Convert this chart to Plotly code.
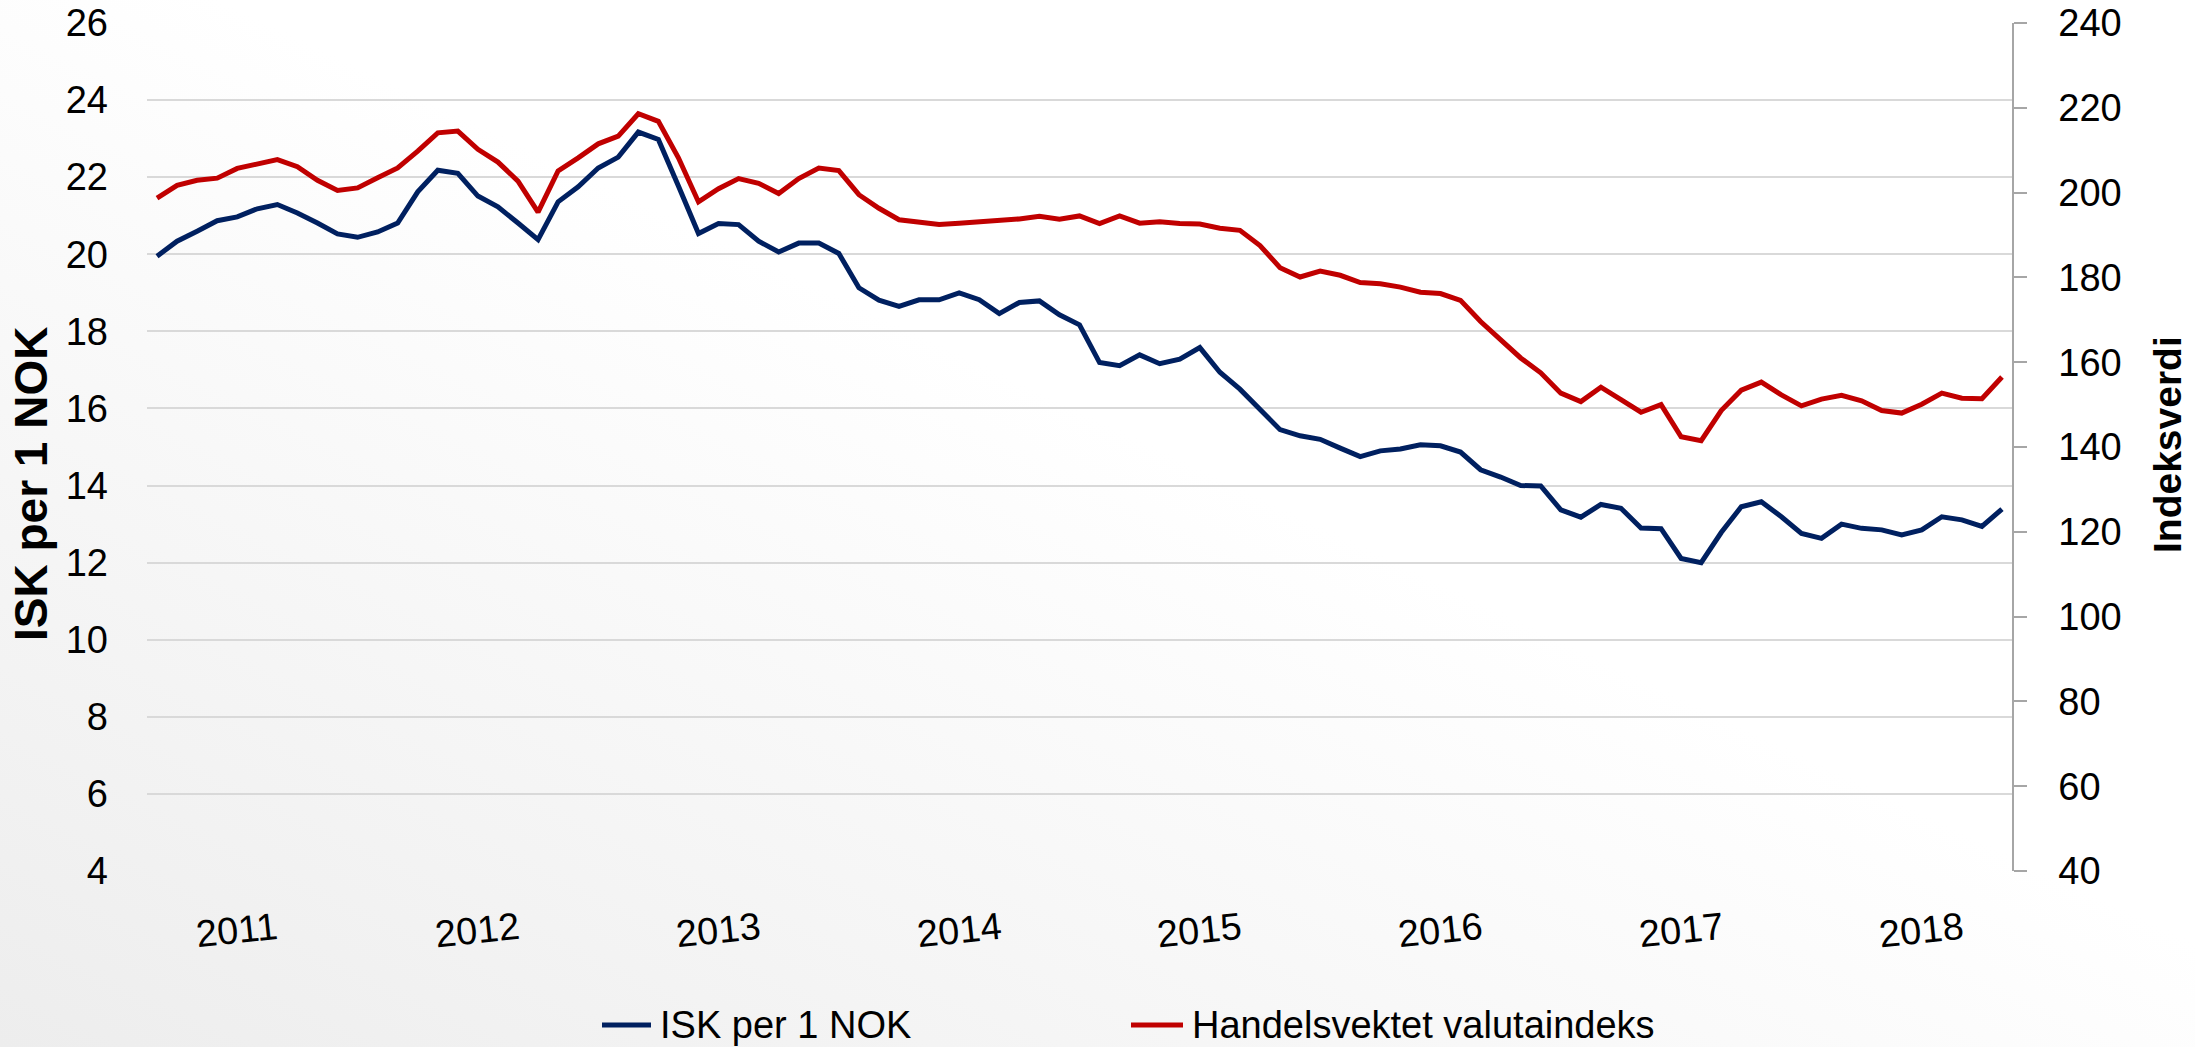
import base64
import plotly.graph_objects as go

# Monthly observations, Sep 2010 - May 2018
months = [f"{y}-{m:02d}" for y in range(2010, 2019) for m in range(1, 13)]
months = months[months.index("2010-09"):months.index("2018-05") + 1]

isk_per_nok = [
    19.95, 20.34, 20.60, 20.87, 20.97, 21.18, 21.29, 21.07, 20.81, 20.53,
    20.44, 20.58, 20.81, 21.62, 22.18, 22.10, 21.51, 21.23, 20.81, 20.38,
    21.36, 21.75, 22.24, 22.52, 23.17, 22.98, 21.77, 20.54, 20.80, 20.77,
    20.34, 20.06, 20.29, 20.29, 20.02, 19.13, 18.81, 18.65, 18.82, 18.82,
    19.00, 18.82, 18.46, 18.75, 18.79, 18.43, 18.17, 17.19, 17.11, 17.39,
    17.16, 17.28, 17.58, 16.94, 16.50, 15.98, 15.45, 15.29, 15.20, 14.97,
    14.75, 14.90, 14.95, 15.06, 15.03, 14.87, 14.41, 14.22, 14.00, 13.99,
    13.37, 13.18, 13.51, 13.41, 12.90, 12.88, 12.11, 12.00, 12.78, 13.45,
    13.58, 13.19, 12.76, 12.63, 13.00, 12.89, 12.85, 12.72, 12.85, 13.19,
    13.11, 12.94, 13.39,
]

handelsvektet = [
    198.7, 201.7, 202.9, 203.4, 205.7, 206.8, 207.8, 206.1, 202.9, 200.5,
    201.1, 203.5, 205.8, 209.8, 214.1, 214.5, 210.2, 207.2, 202.7, 195.4,
    205.1, 208.2, 211.5, 213.3, 218.6, 216.8, 208.2, 197.8, 200.9, 203.3,
    202.2, 199.8, 203.3, 205.8, 205.2, 199.5, 196.3, 193.6, 193.1, 192.5,
    192.8, 193.1, 193.4, 193.8, 194.4, 193.7, 194.5, 192.7, 194.5, 192.8,
    193.1, 192.7, 192.6, 191.6, 191.1, 187.5, 182.3, 180.1, 181.5, 180.5,
    178.8, 178.5, 177.7, 176.5, 176.2, 174.6, 169.6, 165.2, 161.0, 157.5,
    152.7, 150.7, 154.1, 151.2, 148.2, 150.0, 142.4, 141.5, 148.6, 153.4,
    155.3, 152.3, 149.7, 151.3, 152.2, 150.9, 148.6, 148.0, 150.1, 152.7,
    151.5, 151.4, 156.5,
]

year_labels = ["2011", "2012", "2013", "2014", "2015", "2016", "2017", "2018"]

FONT = "Liberation Sans"
BLUE = "#002060"
RED = "#C00000"
LINE_W = 5

W, H = 2195, 1047
ML, MR, MT, MB = 147, 183, 23, 176
PW, PH = W - ML - MR, H - MT - MB


def px_x(px):
    """Page x pixel -> paper fraction."""
    return (px - ML) / PW


def px_y(py):
    """Page y pixel (from top) -> paper fraction."""
    return (MT + PH - py) / PH


fig = go.Figure()
fig.add_trace(go.Scatter(
    x=months, y=isk_per_nok, name="ISK per 1 NOK", mode="lines",
    line=dict(color=BLUE, width=LINE_W),
))
fig.add_trace(go.Scatter(
    x=months, y=handelsvektet, name="Handelsvektet valutaindeks", mode="lines",
    yaxis="y2", line=dict(color=RED, width=LINE_W),
))

# soft diagonal background fill behind the whole chart
svg = (
    f'<svg xmlns="http://www.w3.org/2000/svg" width="{W}" height="{H}" '
    f'viewBox="0 0 {W} {H}" preserveAspectRatio="none">'
    '<defs><linearGradient id="g" x1="1" y1="0" x2="0" y2="1">'
    '<stop offset="0" stop-color="#ffffff"/>'
    '<stop offset="0.45" stop-color="#ffffff"/>'
    '<stop offset="1" stop-color="#ededed"/>'
    '</linearGradient></defs>'
    f'<rect width="{W}" height="{H}" fill="url(#g)"/></svg>'
)
bg_src = "data:image/svg+xml;base64," + base64.b64encode(svg.encode()).decode()

annotations = []
for yl in year_labels:
    annotations.append(dict(
        x=f"{yl}-01", xref="x", y=px_y(930), yref="paper",
        text=yl, showarrow=False, textangle=-6,
        xanchor="center", yanchor="middle",
        font=dict(family=FONT, size=38, color="black"),
    ))
annotations.append(dict(
    x=px_x(31), xref="paper", y=px_y(484), yref="paper",
    text="<b>ISK per 1 NOK</b>", showarrow=False, textangle=-90,
    xanchor="center", yanchor="middle",
    font=dict(family=FONT, size=46, color="black"),
))
annotations.append(dict(
    x=px_x(2167), xref="paper", y=px_y(445), yref="paper",
    text="<b>Indeksverdi</b>", showarrow=False, textangle=-90,
    xanchor="center", yanchor="middle",
    font=dict(family=FONT, size=39, color="black"),
))

# legend row under the chart: line sample + series name
legend_y = 1025
legend_items = [
    ("ISK per 1 NOK", BLUE, 602, 651, 658),
    ("Handelsvektet valutaindeks", RED, 1131, 1183, 1190),
]
shapes = []
for name, color, x0, x1, xt in legend_items:
    shapes.append(dict(
        type="line", xref="paper", yref="paper",
        x0=px_x(x0), x1=px_x(x1), y0=px_y(legend_y), y1=px_y(legend_y),
        line=dict(color=color, width=LINE_W),
    ))
    annotations.append(dict(
        x=px_x(xt), xref="paper", y=px_y(legend_y), yref="paper",
        text=name, showarrow=False, xanchor="left", yanchor="middle",
        font=dict(family=FONT, size=38, color="black"),
    ))

fig.update_layout(
    width=W, height=H, autosize=False,
    margin=dict(l=ML, r=MR, t=MT, b=MB, pad=0),
    paper_bgcolor="rgba(0,0,0,0)", plot_bgcolor="rgba(0,0,0,0)",
    font=dict(family=FONT, size=38, color="black"),
    showlegend=False,
    xaxis=dict(
        type="category", range=[-0.5, len(months) - 0.5],
        showgrid=False, showline=False, zeroline=False,
        showticklabels=False, ticks="", automargin=False,
    ),
    yaxis=dict(
        range=[4, 26], dtick=2, tick0=4,
        showgrid=True, gridcolor="#d9d9d9", gridwidth=1.8,
        showline=False, zeroline=False, ticks="",
        ticklabelstandoff=38, automargin=False,
        tickfont=dict(family=FONT, size=38, color="black"),
    ),
    yaxis2=dict(
        overlaying="y", side="right", range=[40, 240], dtick=20, tick0=40,
        showgrid=False, zeroline=False,
        showline=True, linecolor="#a6a6a6", linewidth=1.5,
        ticks="outside", ticklen=13, tickcolor="#a6a6a6", tickwidth=1.5,
        ticklabelstandoff=24, automargin=False,
        tickfont=dict(family=FONT, size=38, color="black"),
    ),
    annotations=annotations,
    shapes=shapes,
    images=[dict(
        source=bg_src, xref="paper", yref="paper",
        x=-ML / PW, y=1 + MT / PH, sizex=W / PW, sizey=H / PH,
        xanchor="left", yanchor="top", sizing="stretch", layer="below",
    )],
)

fig.write_html("out.html")
